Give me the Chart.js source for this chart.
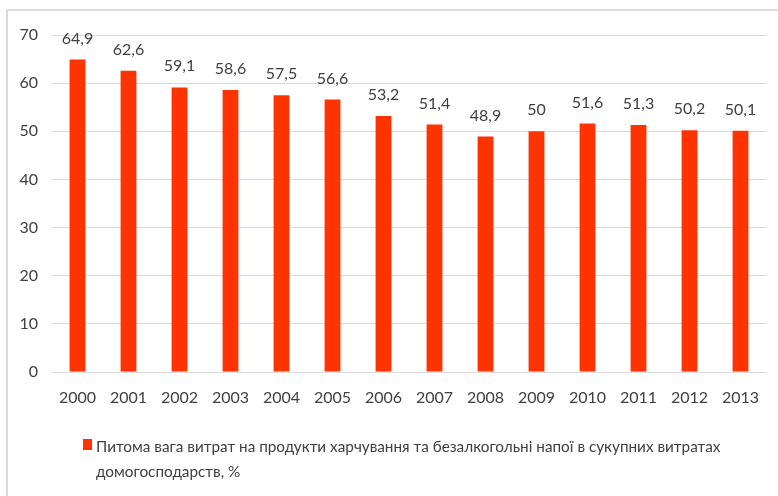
<!DOCTYPE html>
<html>
<head>
<meta charset="utf-8">
<script src="https://cdn.jsdelivr.net/npm/chart.js@4"></script>
<style>
    body { margin: 0; background: #fff; }
    #wrap { position: relative; width: 778px; height: 496px; overflow: hidden; }
    #frame {
        position: absolute; left: 6px; top: 9px; width: 800px; height: 520px;
        border-top: 2px solid #d9d9d9; border-left: 2px solid #d9d9d9;
    }
    #chart { position: absolute; left: 0; top: 0; }
    #legend {
        position: absolute; left: 83px; top: 434px;
        font-family: Lato, sans-serif; font-size: 15.3px; color: #404040; line-height: 25px;
    }
    #legend .box {
        position: absolute; left: 0; top: 5px; width: 9px; height: 11px; background: #ff3300;
    }
    #legend .txt { margin-left: 13px; }
</style>
</head>
<body>
<div id="wrap">
    <div id="frame"></div>
    <canvas id="chart" width="778" height="496"></canvas>
    <div id="legend"><span class="box"></span><div class="txt" id="legendText"></div></div>
</div>
<script>
// Data
const years = ['2000', '2001', '2002', '2003', '2004', '2005', '2006', '2007', '2008', '2009', '2010', '2011', '2012', '2013'];
const shares = [64.9, 62.6, 59.1, 58.6, 57.5, 56.6, 53.2, 51.4, 48.9, 50, 51.6, 51.3, 50.2, 50.1];
const seriesLabel = ['Питома вага витрат на продукти харчування та безалкогольні напої в сукупних витратах', 'домогосподарств, %'];
const yTicks = [0, 10, 20, 30, 40, 50, 60, 70];

document.getElementById('legendText').innerHTML = seriesLabel.join('<br>');

/**
 * Value labels above bars, decimal comma
 */
const valueLabels = {
    id: 'valueLabels',
    afterDatasetsDraw(chart) {
        const ctx = chart.ctx;
        const meta = chart.getDatasetMeta(0);
        ctx.save();
        ctx.font = "16px Lato, sans-serif";
        ctx.fillStyle = '#404040';
        ctx.textAlign = 'center';
        ctx.textBaseline = 'alphabetic';
        meta.data.forEach((bar, i) => {
            const txt = String(shares[i]).replace('.', ',');
            ctx.fillText(txt, bar.x, bar.y - 16);
        });
        ctx.restore();
    }
};

new Chart(document.getElementById('chart'), {
    type: 'bar',
    data: {
        labels: years,
        datasets: [{
            label: seriesLabel.join(' '),
            data: shares,
            backgroundColor: '#ff3300',
            barPercentage: 0.31,
            categoryPercentage: 1
        }]
    },
    options: {
        responsive: false,
        animation: false,
        layout: { padding: { top: 35, right: 12, bottom: 84, left: 0 } },
        plugins: {
            legend: { display: false },
            tooltip: { enabled: false }
        },
        scales: {
            y: {
                min: 0,
                max: 70,
                afterBuildTicks: (axis) => { axis.ticks = yTicks.map(v => ({ value: v })); },
                afterFit: (axis) => { axis.width = 52; },
                ticks: {
                    color: '#404040',
                    padding: 14,
                    font: { family: 'Lato, sans-serif', size: 16 }
                },
                grid: { color: '#d9d9d9', lineWidth: 1, drawTicks: false },
                border: { display: false }
            },
            x: {
                afterFit: (axis) => { axis.height = 40; },
                ticks: {
                    color: '#404040',
                    padding: 8,
                    maxRotation: 0,
                    font: { family: 'Lato, sans-serif', size: 16 }
                },
                grid: { display: false },
                border: { display: false }
            }
        }
    },
    plugins: [valueLabels]
});
</script>
</body>
</html>
